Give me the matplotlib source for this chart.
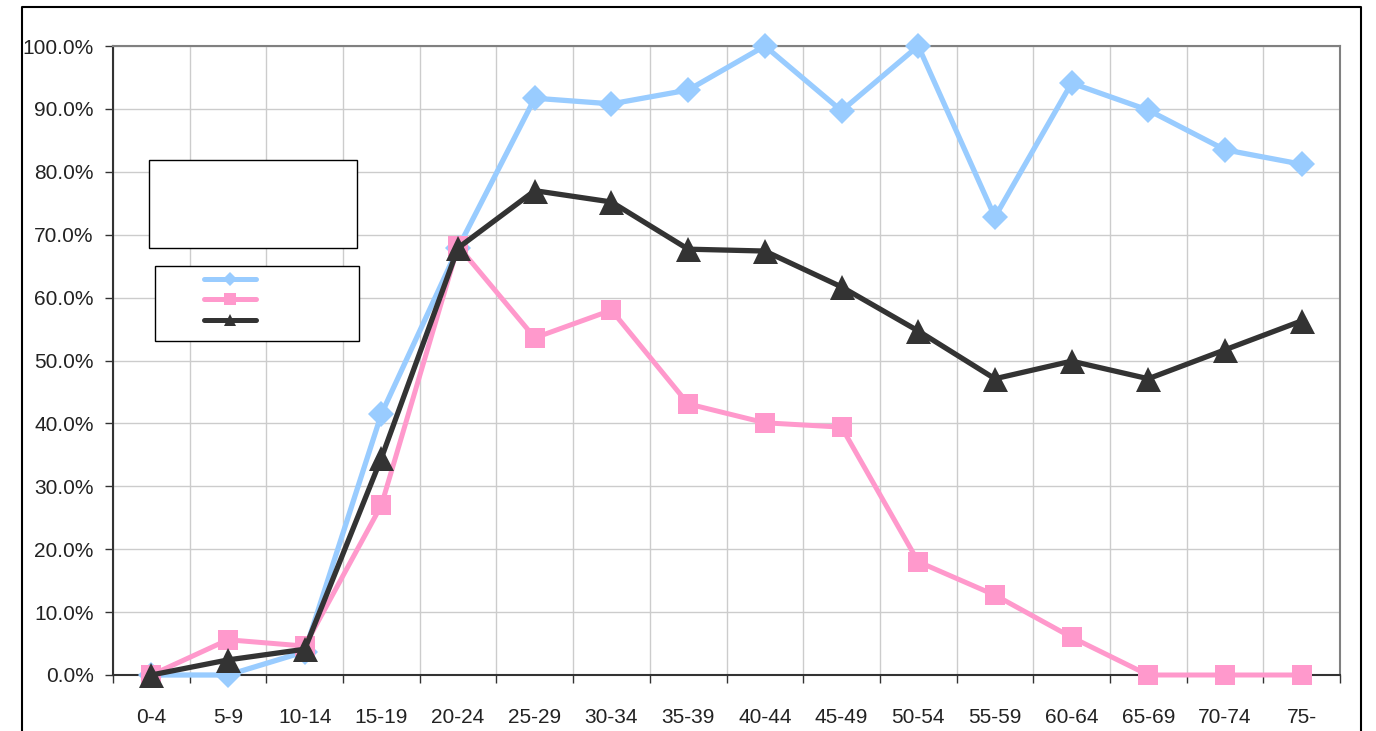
import matplotlib
matplotlib.use("Agg")
import matplotlib.pyplot as plt
from matplotlib.lines import Line2D
from matplotlib.patches import Rectangle
from matplotlib.ticker import FixedLocator, FuncFormatter

plt.rcParams["font.family"] = ["Liberation Sans", "DejaVu Sans"]

# age groups and the three series (values in %)
age_groups = ["0-4", "5-9", "10-14", "15-19", "20-24", "25-29", "30-34", "35-39",
              "40-44", "45-49", "50-54", "55-59", "60-64", "65-69", "70-74", "75-"]
blue_vals = [0.0, 0.0, 3.7, 41.5, 67.9, 91.7, 90.8, 93.0,
             100.0, 89.7, 100.0, 72.8, 94.1, 89.8, 83.5, 81.2]
pink_vals = [0.0, 5.6, 4.6, 27.0, 68.2, 53.6, 58.0, 43.1,
             40.1, 39.4, 18.0, 12.7, 6.0, 0.0, 0.0, 0.0]
black_vals = [0.0, 2.4, 4.1, 34.5, 67.9, 77.0, 75.2, 67.7,
              67.4, 61.7, 54.7, 47.1, 49.9, 47.1, 51.7, 56.3]
y_ticks = [0, 10, 20, 30, 40, 50, 60, 70, 80, 90, 100]

BLUE = "#99ccff"
PINK = "#ff99cc"
DARK = "#333333"

W, H = 1376, 731
fig = plt.figure(figsize=(W / 100, H / 100), dpi=100)
ax = fig.add_axes([113 / W, 1 - 675 / H, (1340 - 113) / W, (675 - 46) / H])

x = list(range(len(age_groups)))
ax.plot(x, blue_vals, color=BLUE, lw=3.8, marker="D", ms=13.5, mew=0, zorder=3, clip_on=False)
ax.plot(x, pink_vals, color=PINK, lw=3.6, marker="s", ms=14.5, mew=0, zorder=4, clip_on=False)
ax.plot(x, black_vals, color=DARK, lw=3.8, marker="^", ms=18, mew=0, zorder=5, clip_on=False)

ax.set_xlim(-0.5, len(age_groups) - 0.5)
ax.set_ylim(0, 100)

# category labels centred, ticks/grid on the boundaries
ax.set_xticks(x)
ax.set_xticklabels(age_groups)
ax.xaxis.set_minor_locator(FixedLocator([i - 0.5 for i in range(len(age_groups) + 1)]))
ax.tick_params(axis="x", which="major", length=0, pad=24, labelsize=15, labelcolor="#222222")
ax.tick_params(axis="x", which="minor", length=6, width=1, color=DARK)
ax.grid(axis="x", which="minor", color="#cccccc", lw=1)

ax.set_yticks(y_ticks)
ax.yaxis.set_major_formatter(FuncFormatter(lambda v, p: "%.1f%%" % v))
ax.tick_params(axis="y", length=6, width=1, color=DARK, pad=8, labelsize=15, labelcolor="#222222")
ax.grid(axis="y", which="major", color="#cccccc", lw=1)
ax.set_axisbelow(True)

for s in ["top", "right"]:
    ax.spines[s].set_color("#808080")
    ax.spines[s].set_linewidth(1.5)
for s in ["left", "bottom"]:
    ax.spines[s].set_color(DARK)
    ax.spines[s].set_linewidth(1.5)

# outer chart frame (bottom edge is cut off)
def fx(px):
    return px / W

def fy(py):
    return 1 - py / H

fig.add_artist(Line2D([fx(22), fx(22), fx(1361), fx(1361)], [0, fy(7), fy(7), 0],
                      color="black", lw=1.5, transform=fig.transFigure))

# empty title box and legend box
fig.add_artist(Rectangle((fx(149), fy(248)), fx(357) - fx(149), fy(160) - fy(248),
                         transform=fig.transFigure, fill=True, facecolor="white",
                         edgecolor="black", lw=1, zorder=10))
fig.add_artist(Rectangle((fx(155), fy(341)), fx(359) - fx(155), fy(266) - fy(341),
                         transform=fig.transFigure, fill=True, facecolor="white",
                         edgecolor="black", lw=1, zorder=10))
legend_rows = [(279, BLUE, "D", 7), (299, PINK, "s", 8), (320, DARK, "^", 9)]
for py, col, mk, ms in legend_rows:
    fig.add_artist(Line2D([fx(204), fx(256)], [fy(py), fy(py)], color=col, lw=3.6,
                          solid_capstyle="round", transform=fig.transFigure, zorder=11))
    fig.add_artist(Line2D([fx(230)], [fy(py)], color=col, marker=mk, ms=ms, mew=0,
                          transform=fig.transFigure, zorder=12))

fig.savefig("out.png", dpi=100)
